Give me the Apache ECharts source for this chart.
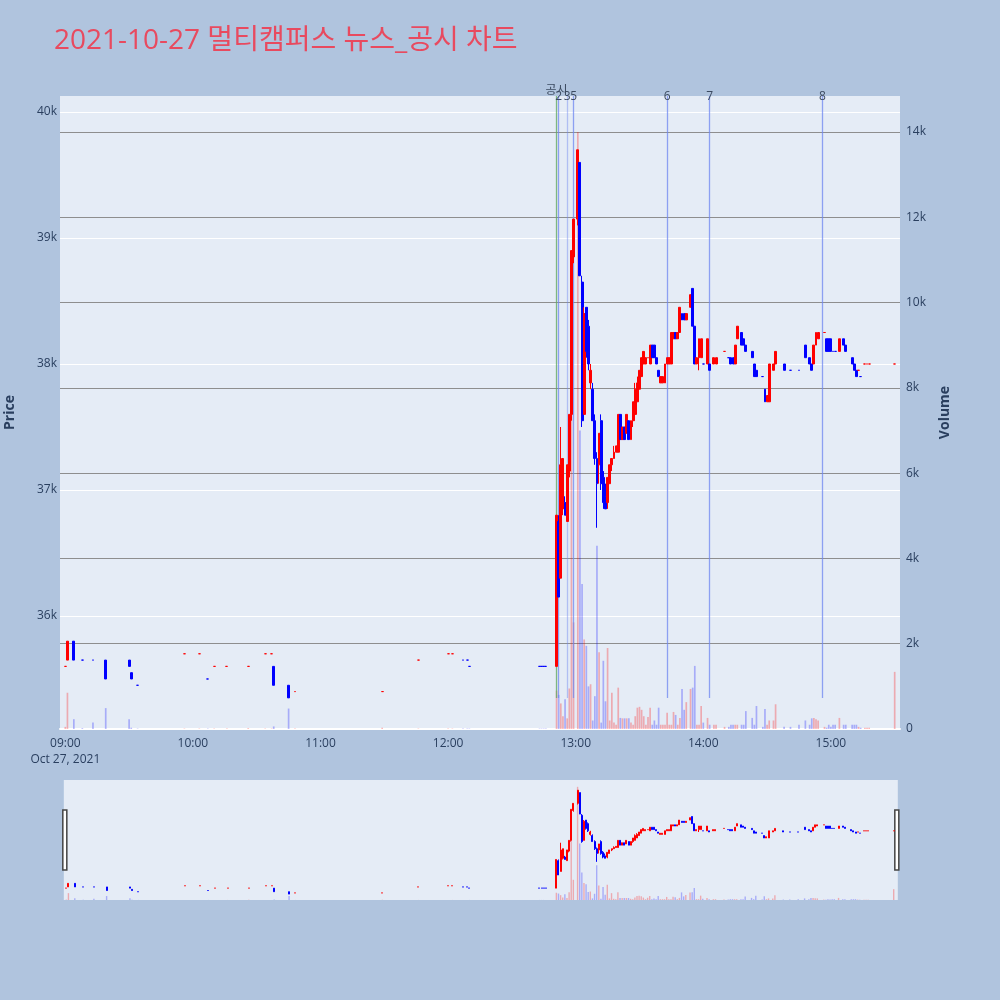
<!DOCTYPE html>
<html>
<head>
<meta charset="utf-8">
<script src="https://cdn.jsdelivr.net/npm/echarts@6/dist/echarts.min.js"></script>
<style>
html,body{margin:0;padding:0;background:#B0C4DE;}
#main{width:1000px;height:1000px;}
</style>
</head>
<body>
<div id="main"></div>
<script>
// 2021-10-27 분봉 (체결이 있던 분만)
var times = [
'09:00','09:01','09:04','09:08','09:13','09:19','09:30','09:31','09:34','09:56',
'10:03','10:07','10:10','10:16','10:26','10:34','10:37','10:38','10:45','10:48',
'11:29','11:46','12:00','12:02','12:07','12:09','12:10','12:43','12:44','12:45',
'12:46','12:51','12:52','12:53','12:54','12:55','12:56','12:57','12:58','12:59',
'13:01','13:02','13:03','13:04','13:05','13:06','13:07','13:08','13:09','13:10',
'13:11','13:12','13:13','13:14','13:15','13:16','13:17','13:18','13:19','13:20',
'13:21','13:22','13:23','13:24','13:25','13:26','13:27','13:28','13:29','13:30',
'13:31','13:32','13:33','13:34','13:35','13:36','13:37','13:38','13:39','13:40',
'13:41','13:42','13:43','13:44','13:45','13:46','13:47','13:48','13:49','13:50',
'13:51','13:52','13:54','13:55','13:56','13:57','13:58','13:59','14:00','14:02',
'14:03','14:05','14:06','14:10','14:12','14:13','14:14','14:15','14:16','14:18',
'14:19','14:20','14:23','14:24','14:25','14:28','14:29','14:30','14:31','14:33',
'14:34','14:38','14:41','14:45','14:48','14:50','14:51','14:52','14:53','14:54',
'14:57','14:58','14:59','15:00','15:01','15:02','15:04','15:06','15:07','15:10',
'15:11','15:12','15:13','15:14','15:16','15:17','15:18','15:30'
];
var opens = [
35600,35650,35800,35650,35650,35650,35650,35550,35450,35700,
35700,35500,35600,35600,35600,35700,35700,35600,35450,35400,
35400,35650,35700,35700,35650,35650,35600,35600,35600,35600,
35600,35600,36750,36300,36850,36900,36750,37150,37600,38850,
39150,39600,38650,37600,38450,38300,37850,37800,37550,37250,
37200,37550,37100,36950,36900,37050,37200,37250,37300,37300,
37600,37400,37500,37450,37550,37400,37550,37600,37700,37800,
37900,38000,38000,38050,38000,38150,38150,38050,37950,37850,
37850,37850,38000,38000,38000,38200,38250,38200,38250,38400,
38400,38350,38450,38600,38300,38000,38050,38050,38000,38000,
38000,38000,38000,38100,38050,38050,38050,38000,38200,38250,
38200,38150,38100,38000,37950,37900,37800,37700,37700,37950,
38000,38000,37950,37950,38150,38050,38000,38000,38150,38200,
38250,38200,38200,38200,38100,38100,38100,38200,38150,38050,
38000,37950,37950,37900,38000,38000,38000,38000
];
var highs = [
35600,35800,35800,35650,35650,35650,35650,35550,35450,35700,
35700,35500,35600,35600,35600,35700,35700,35600,35450,35400,
35400,35650,35700,35700,35650,35650,35600,35600,35600,35600,
35600,36800,36800,37500,37250,36950,37200,37600,38900,39150,
39700,39600,38700,38450,38450,38350,38000,37850,37600,37300,
37450,37600,37150,37050,37100,37200,37250,37350,37350,37600,
37600,37500,37500,37600,37550,37550,37700,37850,37900,37950,
38050,38100,38050,38050,38150,38150,38150,38050,37950,37900,
37900,38000,38050,38050,38250,38250,38250,38250,38450,38400,
38400,38400,38550,38600,38300,38050,38200,38200,38000,38200,
38000,38050,38050,38100,38050,38050,38050,38150,38300,38250,
38200,38150,38100,38000,37950,37900,37800,37750,38000,38000,
38100,38000,37950,37950,38150,38050,38000,38150,38250,38250,
38250,38200,38200,38200,38100,38100,38200,38200,38150,38050,
38000,37950,37950,37900,38000,38000,38000,38000
];
var lows = [
35600,35650,35650,35650,35650,35500,35600,35500,35450,35700,
35700,35500,35600,35600,35600,35700,35700,35450,35350,35400,
35400,35650,35700,35700,35650,35650,35600,35600,35600,35600,
35600,35600,36150,36300,36800,36800,36750,37100,37550,38800,
39100,38700,37500,37600,38050,37950,37800,37550,37200,36700,
37050,37000,36850,36850,36850,37050,37150,37250,37300,37300,
37400,37400,37400,37450,37400,37400,37500,37600,37700,37800,
37900,38000,38000,38050,38000,38050,38050,38000,37900,37850,
37850,37850,38000,38000,38000,38200,38200,38200,38250,38350,
38350,38350,38450,38300,38000,38000,37950,38050,38000,38000,
37950,38000,38000,38100,38050,38000,38000,38000,38200,38150,
38150,38100,38050,37900,37900,37900,37700,37700,37700,37950,
38000,37950,37950,37950,38050,38000,37950,38000,38150,38200,
38250,38100,38100,38100,38100,38100,38100,38150,38100,38000,
37950,37900,37950,37900,38000,38000,38000,38000
];
var closes = [
35600,35800,35650,35650,35650,35500,35600,35500,35450,35700,
35700,35500,35600,35600,35600,35700,35700,35450,35350,35400,
35400,35650,35700,35700,35650,35650,35600,35600,35600,35600,
35600,36800,36150,37200,37250,36800,37200,37600,38900,39150,
39700,38700,37550,38400,38100,38000,37950,37550,37250,37050,
37450,37050,36900,36850,37100,37200,37250,37300,37350,37600,
37400,37500,37400,37600,37400,37550,37700,37800,37850,37950,
38050,38100,38050,38050,38150,38050,38050,38000,37900,37900,
37900,38000,38050,38050,38250,38250,38200,38250,38450,38350,
38350,38400,38550,38300,38000,38050,38200,38200,38000,38200,
37950,38050,38050,38100,38050,38000,38000,38150,38300,38150,
38150,38100,38050,37900,37900,37900,37700,37750,38000,38000,
38100,37950,37950,37950,38050,38000,37950,38150,38250,38250,
38250,38100,38100,38100,38100,38100,38200,38150,38100,38000,
37950,37900,37950,37900,38000,38000,38000,38000
];
var volumes = [
50,850,230,20,150,490,230,30,10,10,
10,10,10,10,20,10,10,60,480,10,
30,10,10,10,10,10,10,10,10,10,
10,900,800,600,300,700,250,950,7400,2500,
14000,7000,3400,2100,1950,1000,1050,200,770,4300,
1800,150,1600,650,1900,200,850,150,100,970,
260,250,250,250,250,150,100,300,500,520,
450,300,100,280,500,100,200,100,500,100,
100,100,380,100,100,400,330,100,260,940,
450,630,940,970,1480,100,100,540,150,260,
100,100,100,50,50,100,100,100,100,100,
100,420,260,100,540,50,470,100,200,200,
580,50,50,100,200,100,250,260,230,200,
50,30,100,50,100,100,260,100,100,100,
100,100,50,30,30,30,30,1340
];

// 뉴스/공시 시각
var newsTimes = ['12:51','12:52','12:56','12:59','13:43','14:03','14:56'];
var newsLabels = ['공시','2','3','5','6','7','8'];

// x축 시각 라벨
var hourLabels = ['09:00','10:00','11:00','12:00','13:00','14:00','15:00'];

var UP = '#FF0000', DOWN = '#0000FF';
var UP_VOL = 'rgba(255,0,0,0.28)', DOWN_VOL = 'rgba(0,0,255,0.27)';
var PRICE_MIN = 35103, PRICE_MAX = 40127, VOL_MAX = 14845;

function pad(n){ return (n < 10 ? '0' : '') + n; }

// 08:58 ~ 15:32 분 단위 카테고리
var cats = [];
for (var t = 8*60+58; t <= 15*60+32; t++) {
	cats.push(pad(Math.floor(t/60)) + ':' + pad(t%60));
}

var candleData = cats.map(function(){ return '-'; });
var volData = cats.map(function(){ return '-'; });
var prevClose = null, prevUp = true;
for (var i = 0; i < times.length; i++) {
	var up;
	if (closes[i] > opens[i]) up = true;
	else if (closes[i] < opens[i]) up = false;
	else if (prevClose == null) up = true;
	else if (closes[i] > prevClose) up = true;
	else if (closes[i] < prevClose) up = false;
	else up = prevUp;
	prevClose = closes[i]; prevUp = up;
	var c = up ? UP : DOWN;
	var k = cats.indexOf(times[i]);
	candleData[k] = {
		value: [opens[i], closes[i], lows[i], highs[i]],
		itemStyle: {color: c, color0: c, borderColor: c, borderColor0: c, borderColorDoji: c}
	};
	volData[k] = {value: volumes[i], itemStyle: {color: up ? UP_VOL : DOWN_VOL}};
}

var lowest = Math.min.apply(null, lows);
var newsLines = newsTimes.map(function(tm, i){
	var first = i === 0;
	var col = first ? 'rgba(100,170,100,0.8)' : (newsLabels[i] === '3' ? 'rgba(110,135,240,0.45)' : 'rgba(110,135,240,0.75)');
	return [
		{name: newsLabels[i], coord: [tm, lowest],
		 lineStyle: {color: col, width: 1.3, type: 'solid'},
		 label: {show: true, position: 'end', formatter: '{b}', distance: first ? -1 : -7,
		         color: '#3b4a60', fontSize: 12}},
		{coord: [tm, PRICE_MAX]}
	];
});

var font = "'Open Sans', 'Noto Sans CJK KR', sans-serif";
var myChart = echarts.init(document.getElementById('main'));

var option = {
	backgroundColor: '#B0C4DE',
	animation: false,
	textStyle: {fontFamily: font},
	title: {
		text: '2021-10-27 멀티캠퍼스 뉴스_공시 차트',
		left: 49, top: 22,
		textStyle: {color: '#E84A5F', fontSize: 28, fontWeight: 'normal', fontFamily: font}
	},
	grid: [
		{left: 60, top: 96, width: 840, height: 633, show: true, backgroundColor: '#E5ECF6', borderWidth: 0,
		 containLabel: false, outerBoundsMode: 'none'},
		{left: 61, top: 780, width: 838, height: 120, show: false, containLabel: false, outerBoundsMode: 'none'}
	],
	xAxis: [{
		type: 'category', gridIndex: 0, data: cats, boundaryGap: true,
		axisLine: {show: true, lineStyle: {color: '#ffffff', width: 2}},
		axisTick: {show: false},
		splitLine: {show: false},
		axisLabel: {
			color: '#2a3f5f', fontSize: 12, margin: 7, lineHeight: 16,
			interval: function(idx, val){ return hourLabels.indexOf(val) >= 0; },
			formatter: function(val){ return val === '09:00' ? '09:00\nOct 27, 2021' : val; }
		}
	}, {
		type: 'category', gridIndex: 1, data: cats, boundaryGap: true, show: false
	}],
	yAxis: [{
		type: 'value', gridIndex: 0, min: PRICE_MIN, max: PRICE_MAX, splitNumber: 5,
		name: 'Price', nameLocation: 'middle', nameGap: 43, nameRotate: 90,
		nameTextStyle: {color: '#2a3f5f', fontSize: 14, fontWeight: 'bold'},
		axisLine: {show: false}, axisTick: {show: false},
		axisLabel: {color: '#2a3f5f', fontSize: 12, margin: 3,
			formatter: function(v){ return v % 1000 === 0 ? (v/1000) + 'k' : ''; }},
		splitLine: {show: true, showMinLine: false, showMaxLine: false, lineStyle: {color: '#ffffff', width: 1}}
	}, {
		type: 'value', gridIndex: 0, position: 'right', min: 0, max: VOL_MAX, interval: 2000,
		name: 'Volume', nameLocation: 'middle', nameGap: 38, nameRotate: 90,
		nameTextStyle: {color: '#2a3f5f', fontSize: 14, fontWeight: 'bold'},
		axisLine: {show: false}, axisTick: {show: false},
		axisLabel: {color: '#2a3f5f', fontSize: 12, margin: 6,
			formatter: function(v){ return v === 0 ? '0' : (v % 2000 === 0 ? (v/1000) + 'k' : ''); }},
		splitLine: {show: true, showMinLine: false, showMaxLine: false, lineStyle: {color: '#8e8e8e', width: 1}}
	}, {
		type: 'value', gridIndex: 1, min: PRICE_MIN, max: PRICE_MAX, show: false, splitLine: {show: false}
	}, {
		type: 'value', gridIndex: 1, min: 0, max: VOL_MAX, show: false, splitLine: {show: false}
	}],
	dataZoom: [{
		type: 'slider', xAxisIndex: 1, filterMode: 'none', start: 0, end: 100, z: 1,
		left: 63, right: 103, top: 780, height: 120,
		backgroundColor: '#E5ECF6', borderColor: 'rgba(0,0,0,0)', fillerColor: 'rgba(0,0,0,0)',
		showDataShadow: false, showDetail: false, brushSelect: false, moveHandleSize: 0,
		dataBackground: {lineStyle: {opacity: 0}, areaStyle: {opacity: 0}},
		selectedDataBackground: {lineStyle: {opacity: 0}, areaStyle: {opacity: 0}},
		handleIcon: 'path://M0,0 L4,0 L4,60 L0,60 Z', handleSize: 60,
		handleStyle: {color: '#ffffff', borderColor: '#444444', borderWidth: 1.5},
		moveHandleStyle: {opacity: 0},
		emphasis: {handleStyle: {color: '#ffffff', borderColor: '#444444', borderWidth: 1.5}, moveHandleStyle: {opacity: 0}}
	}],
	series: [{
		name: 'volume', type: 'bar', xAxisIndex: 0, yAxisIndex: 1, data: volData,
		barWidth: 1.7, z: 1, silent: true
	}, {
		// 뉴스 표시선 (캔들 아래)
		name: 'news', type: 'line', xAxisIndex: 0, yAxisIndex: 0, data: [], z: 2, silent: true,
		markLine: {symbol: ['none', 'none'], silent: true, animation: false, z: 2, data: newsLines}
	}, {
		name: 'price', type: 'candlestick', xAxisIndex: 0, yAxisIndex: 0, data: candleData,
		barWidth: 2.4, z: 3, silent: true,
		itemStyle: {color: UP, color0: DOWN, borderColor: UP, borderColor0: DOWN, borderWidth: 1}
	}, {
		name: 'volume-mini', type: 'bar', xAxisIndex: 1, yAxisIndex: 3, data: volData,
		barWidth: 1.4, z: 2, silent: true
	}, {
		name: 'price-mini', type: 'candlestick', xAxisIndex: 1, yAxisIndex: 2, data: candleData,
		barWidth: 1.5, z: 3, silent: true,
		itemStyle: {color: UP, color0: DOWN, borderColor: UP, borderColor0: DOWN, borderWidth: 1}
	}]
};
myChart.setOption(option);
</script>
</body>
</html>
